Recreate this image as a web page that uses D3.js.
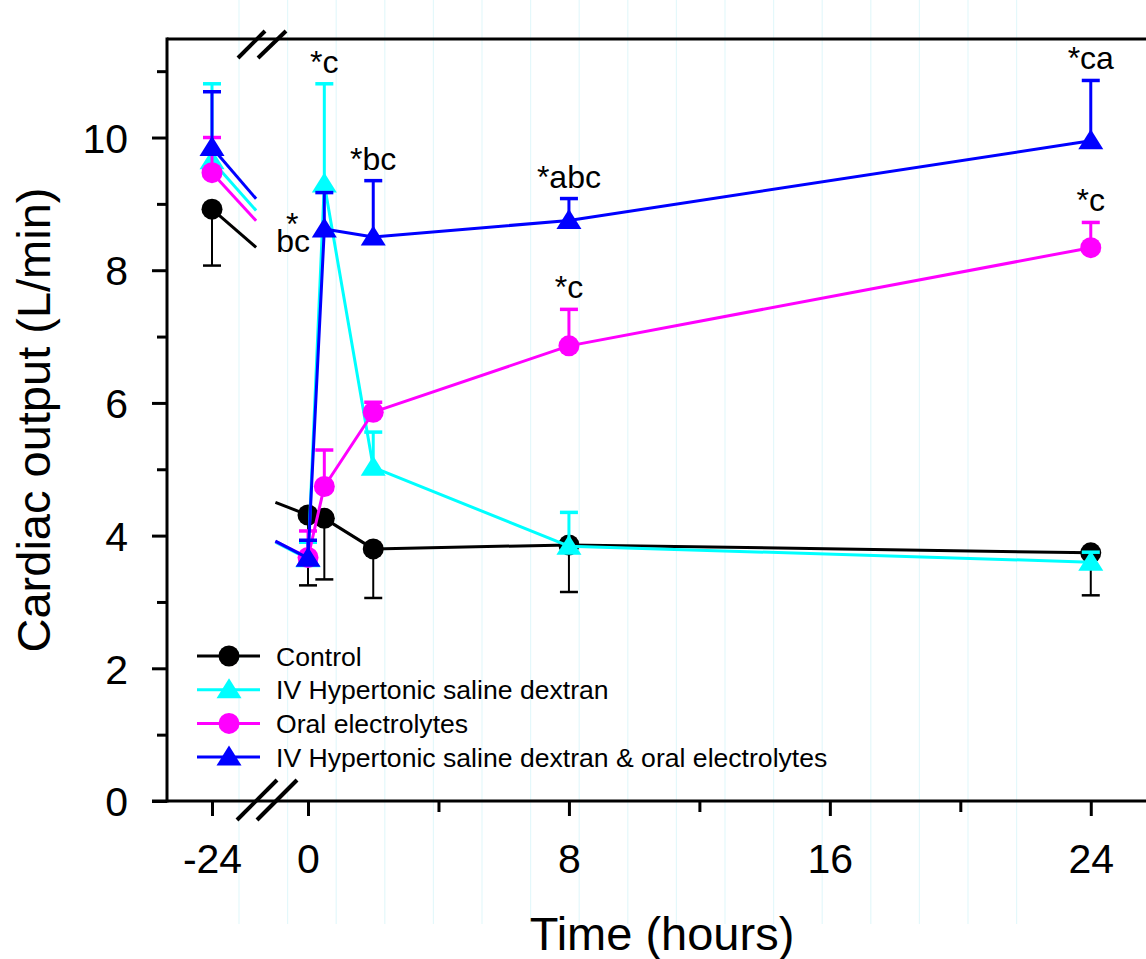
<!DOCTYPE html>
<html>
<head>
<meta charset="utf-8">
<script src="https://cdn.jsdelivr.net/npm/d3@7"></script>
<style>
  html, body { margin: 0; padding: 0; background: #fff; }
  svg { display: block; font-family: "Liberation Sans", Arial, sans-serif; }
</style>
</head>
<body>
<svg id="chart" width="1146" height="959"></svg>
<script>
// ---------------- data ----------------
const times = [-24, 0, 0.5, 2, 8, 24];
const seriesNames = ["Control", "IV Hypertonic saline dextran", "Oral electrolytes", "IV Hypertonic saline dextran & oral electrolytes"];
const seriesColors = ["#000000", "#00ffff", "#ff00ff", "#0000ff"];
const seriesShapes = ["circle", "triangle", "circle", "triangle"];
const controlMean = [8.92, 4.31, 4.26, 3.80, 3.86, 3.74];
const controlErr  = [8.07, 3.25, 3.34, 3.06, 3.15, 3.10];   // error bar ends (downward)
const hsdMean     = [9.65, 3.65, 9.30, 5.03, 3.84, 3.60];
const hsdErr      = [10.81, 3.90, 10.81, 5.56, 4.35, 3.75];
const oralMean    = [9.47, 3.67, 4.74, 5.86, 6.86, 8.34];
const oralErr     = [10.00, 4.07, 5.29, 6.01, 7.41, 8.72];
const comboMean   = [9.85, 3.66, 8.62, 8.50, 8.75, 9.95];
const comboErr    = [10.69, 3.93, 9.17, 9.35, 9.08, 10.86];
const yMajorTicks = [0, 2, 4, 6, 8, 10];
const yMinorTicks = [1, 3, 5, 7, 9, 11];
const xMajorTicksLeft = [-24];
const xMajorTicksRight = [0, 8, 16, 24];
const xMinorTicksRight = [4, 12, 20];
// significance labels: series index, time index, text
const sigSeries = [1, 3, 3, 2, 3, 2];
const sigTimeIdx = [2, 3, 4, 4, 5, 5];
const sigText = ["*c", "*bc", "*abc", "*c", "*ca", "*c"];
const xTitle = "Time (hours)";
const yTitle = "Cardiac output (L/min)";

const means = [controlMean, hsdMean, oralMean, comboMean];
const errs = [controlErr, hsdErr, oralErr, comboErr];

// ---------------- scales ----------------
const svg = d3.select("#chart");
const W = 1146, H = 959;
const axisX = 167, axisY = 801, topY = 39;
const y = d3.scaleLinear().domain([0, 11.5]).range([801, 38]);
const xLeft = d3.scaleLinear().domain([-27, -21]).range([167.9, 256.1]);
const xRight = d3.scaleLinear().domain([-1, 26]).range([275.4, 1156]);
const xPos = t => (t < -10 ? xLeft(t) : xRight(t));
const tickFmt = d => (d < 0 ? "-" + Math.abs(d) : String(d));

// faint background vertical streaks (scan artefact in the original)
const streaks = d3.range(0, 17);
svg.append("g").selectAll("line").data(streaks).join("line")
  .attr("x1", k => 239 + 48.6 * k).attr("x2", k => 239 + 48.6 * k)
  .attr("y1", 0).attr("y2", 924)
  .attr("stroke", "#e4f8fb").attr("stroke-width", 1.2);

// ---------------- axes ----------------
const FS_TICK = 41;
const gy = svg.append("g").attr("transform", `translate(${axisX},0)`);
gy.append("g").attr("class", "major")
  .call(d3.axisLeft(y).tickValues(yMajorTicks).tickSize(15).tickPadding(24).tickFormat(tickFmt));
gy.append("g").call(d3.axisLeft(y).tickValues(yMinorTicks).tickSize(10).tickFormat(() => ""));
gy.selectAll(".domain").remove();
gy.selectAll(".tick line").attr("stroke", "#000").attr("stroke-width", 3);
gy.selectAll(".major .tick text").attr("font-size", FS_TICK).attr("fill", "#000").attr("dy", "0.36em")
  .attr("font-family", "Liberation Sans, Arial, sans-serif");

const gx = svg.append("g").attr("transform", `translate(0,${axisY})`);
gx.append("g").attr("class", "major")
  .call(d3.axisBottom(xLeft).tickValues(xMajorTicksLeft).tickSize(15).tickPadding(28).tickFormat(tickFmt));
gx.append("g").attr("class", "major")
  .call(d3.axisBottom(xRight).tickValues(xMajorTicksRight).tickSize(15).tickPadding(28).tickFormat(tickFmt));
gx.append("g").call(d3.axisBottom(xRight).tickValues(xMinorTicksRight).tickSize(11).tickFormat(() => ""));
gx.selectAll(".domain").remove();
gx.selectAll(".tick line").attr("stroke", "#000").attr("stroke-width", 3);
gx.selectAll(".major .tick text").attr("font-size", FS_TICK).attr("fill", "#000").attr("dy", "0.71em")
  .attr("font-family", "Liberation Sans, Arial, sans-serif");

// frame lines
const frame = svg.append("g").attr("stroke", "#000").attr("stroke-width", 3).attr("fill", "none");
frame.append("line").attr("x1", axisX).attr("x2", axisX).attr("y1", topY - 1.5).attr("y2", axisY + 1.5);
frame.append("line").attr("x1", 152).attr("x2", W).attr("y1", axisY).attr("y2", axisY);
frame.append("line").attr("x1", axisX).attr("x2", W).attr("y1", topY).attr("y2", topY);

// break marks
const brk = svg.append("g").attr("stroke", "#000").attr("stroke-width", 4).attr("stroke-linecap", "butt");
brk.append("line").attr("x1", 237).attr("y1", 820).attr("x2", 277).attr("y2", 780);
brk.append("line").attr("x1", 257).attr("y1", 820).attr("x2", 297).attr("y2", 780);
brk.append("line").attr("x1", 238).attr("y1", 58).attr("x2", 265).attr("y2", 31);
brk.append("line").attr("x1", 258).attr("y1", 58).attr("x2", 286).attr("y2", 31);

// ---------------- series ----------------
function triPath(s) { return `M0,${-11.5*s} L${12.5*s},${8.5*s} L${-12.5*s},${8.5*s} Z`; }
function drawMarker(g, shape, color, cx, cy, s) {
  if (shape === "circle") {
    g.append("circle").attr("cx", cx).attr("cy", cy).attr("r", 10.5 * s).attr("fill", color);
  } else {
    g.append("path").attr("d", triPath(s)).attr("transform", `translate(${cx},${cy})`).attr("fill", color);
  }
}

means.forEach((m, si) => {
  const color = seriesColors[si];
  const g = svg.append("g");
  const lw = 3;
  // break stubs between -24 and 0
  const vAt = t => m[0] + (m[1] - m[0]) * (t - times[0]) / (times[1] - times[0]);
  g.append("line").attr("x1", xLeft(times[0])).attr("y1", y(m[0]))
    .attr("x2", xLeft(-21)).attr("y2", y(vAt(-21))).attr("stroke", color).attr("stroke-width", lw);
  g.append("line").attr("x1", xRight(-1)).attr("y1", y(vAt(-1)))
    .attr("x2", xRight(times[1])).attr("y2", y(m[1])).attr("stroke", color).attr("stroke-width", lw);
  // main line
  const line = d3.line().x(d => xRight(d[0])).y(d => y(d[1]));
  g.append("path").attr("d", line(times.slice(1).map((t, i) => [t, m[i + 1]])))
    .attr("fill", "none").attr("stroke", color).attr("stroke-width", lw).attr("stroke-linejoin", "round");
  // error bars
  const ew = si === 0 ? 2 : 3;
  times.forEach((t, i) => {
    const cx = xPos(t);
    g.append("line").attr("x1", cx).attr("x2", cx).attr("y1", y(m[i])).attr("y2", y(errs[si][i]))
      .attr("stroke", color).attr("stroke-width", ew);
    g.append("line").attr("x1", cx - 9).attr("x2", cx + 9).attr("y1", y(errs[si][i])).attr("y2", y(errs[si][i]))
      .attr("stroke", color).attr("stroke-width", ew + 0.5);
  });
  // markers
  times.forEach((t, i) => drawMarker(g, seriesShapes[si], color, xPos(t), y(m[i]), 1));
});

// ---------------- significance labels ----------------
const FS_SIG = 32;
const sg = svg.append("g").attr("font-size", FS_SIG).attr("fill", "#000").attr("text-anchor", "middle");
sigText.forEach((txt, k) => {
  const si = sigSeries[k], ti = sigTimeIdx[k];
  sg.append("text").attr("x", xPos(times[ti])).attr("y", y(errs[si][ti]) - 11).text(txt);
});
// "*bc" label beside the combined-treatment point at 0.5 h (asterisk raised over "bc")
{
  const px = xRight(times[2]), py = y(comboMean[2]);
  const t = sg.append("text").attr("text-anchor", "start").attr("x", px - 48).attr("y", py + 23);
  t.append("tspan").text("bc");
  t.append("tspan").attr("dx", -24).attr("dy", -17).text("*");
}

// ---------------- legend ----------------
const lg = svg.append("g");
seriesNames.forEach((name, i) => {
  const ly = 656 + 33.7 * i;
  lg.append("line").attr("x1", 197).attr("x2", 260).attr("y1", ly).attr("y2", ly)
    .attr("stroke", seriesColors[i]).attr("stroke-width", 3);
  drawMarker(lg, seriesShapes[i], seriesColors[i], 229, ly, 1);
  lg.append("text").attr("x", 276).attr("y", ly + 9.5).attr("font-size", 26.6).attr("fill", "#000").text(name);
});

// ---------------- titles ----------------
svg.append("text").attr("x", 662).attr("y", 950).attr("text-anchor", "middle")
  .attr("font-size", 47).attr("fill", "#000").text(xTitle);
svg.append("text").attr("transform", "translate(50,420) rotate(-90)").attr("text-anchor", "middle")
  .attr("font-size", 47).attr("fill", "#000").text(yTitle);
</script>
</body>
</html>
